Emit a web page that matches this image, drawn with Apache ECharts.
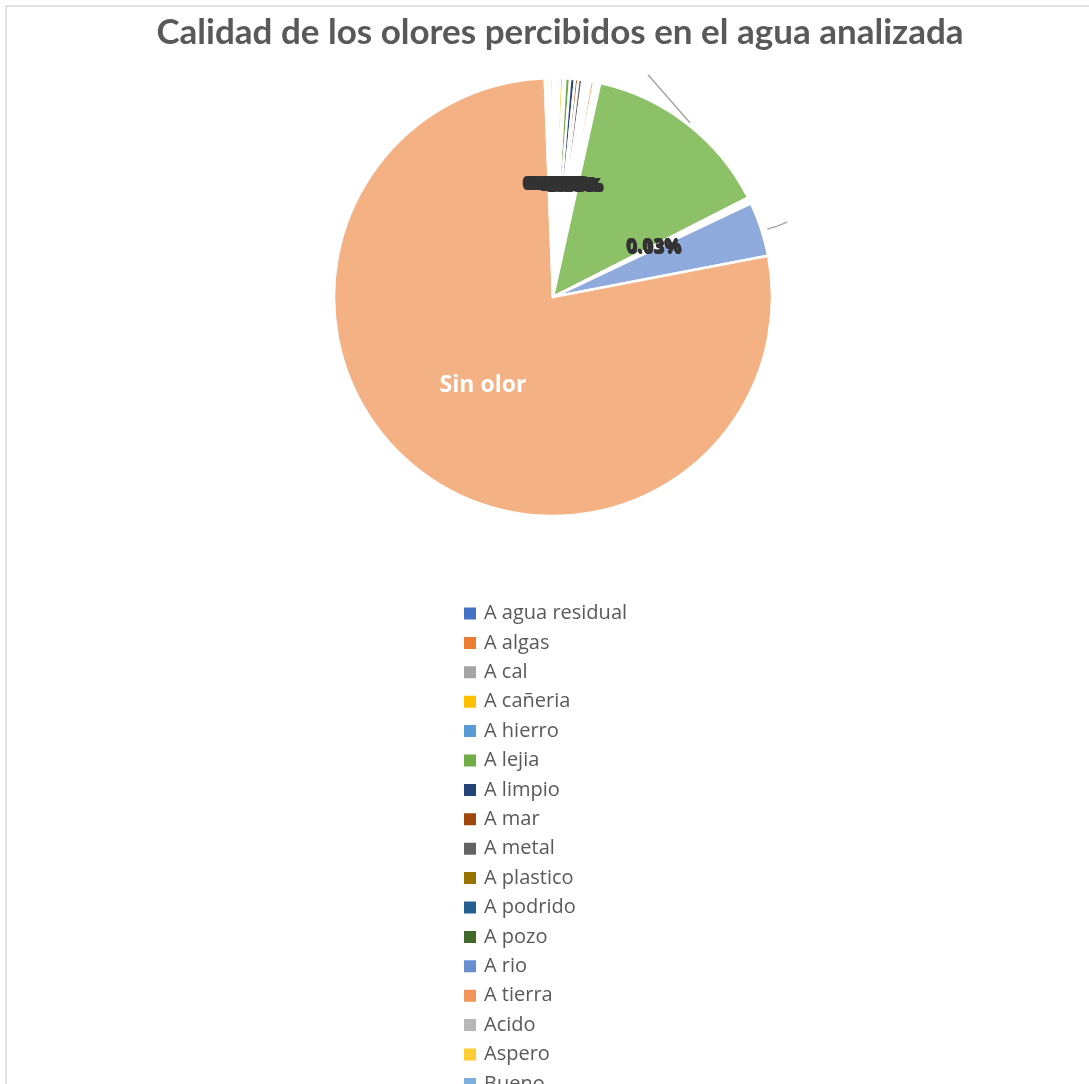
<!DOCTYPE html>
<html>
<head>
<meta charset="utf-8">
<script src="https://cdn.jsdelivr.net/npm/echarts@6/dist/echarts.min.js"></script>
<style>
  html, body { margin: 0; padding: 0; background: #fff; }
  #chart { width: 1089px; height: 1084px; }
</style>
</head>
<body>
<div id="chart"></div>
<script>
// ---- data ----
const titleText = 'Calidad de los olores percibidos en el agua analizada';
const categories = [
  'A agua residual', 'A algas', 'A cal', 'A cañeria', 'A hierro', 'A lejia',
  'A limpio', 'A mar', 'A metal', 'A plastico', 'A podrido', 'A pozo',
  'A rio', 'A tierra', 'Acido', 'Aspero', 'Bueno', 'Cloro',
  'Dulce', 'Fuerte', 'Humedad', 'Malo', 'Metálico', 'Neutro',
  'Raro', 'Sin olor', 'Suave', 'Turbio', 'Vinagre'
];
const values = [
  0.15, 0.15, 0.20, 0.25, 0.15, 0.35,
  0.35, 0.25, 0.30, 0.15, 0.15, 0.15,
  0.15, 0.25, 0.15, 0.15, 0.15, 14.0,
  0.08, 0.08, 0.08, 0.08, 0.08, 0.08,
  4.0, 77.2, 0.2, 0.2, 0.2
];
const labelTexts = [
  '0.00%', '0.01%', '0.00%', '0.01%', '0.00%', '0.02%',
  '0.02%', '0.01%', '0.01%', '0.00%', '0.00%', '0.00%',
  '0.00%', '0.01%', '0.00%', '0.00%', '0.00%', ' ',
  '0.03%', '0.03%', '0.13%', '0.03%', '0.03%', '0.03%',
  ' ', 'Sin olor', '0.01%', '0.00%', '0.00%'
];
const colors = [
  '#4472C4', '#ED7D31', '#A5A5A5', '#FFC000', '#5B9BD5', '#70AD47',
  '#264478', '#9E480E', '#636363', '#997300', '#255E91', '#43682B',
  '#698ED0', '#F1975A', '#B7B7B7', '#FFCD33', '#7CAFDD', '#8CC168',
  '#335593', '#B25E25', '#7C7C7C', '#BF9000', '#4474A0', '#548235',
  '#8FAADC', '#F4B183', '#C9C9C9', '#FFD966', '#9DC3E6'
];
const outsideLabelIdx = [17, 24];
const whiteLabelIdx = [25];

// ---- chart ----
const chart = echarts.init(document.getElementById('chart'), null, { renderer: 'canvas' });

const pieData = categories.map((name, i) => {
  const item = { name: name, value: values[i], itemStyle: { color: colors[i] } };
  if (outsideLabelIdx.includes(i)) {
    item.label = { position: 'outside', formatter: ' ' };
    item.labelLine = { show: true, length: 10, length2: 0, lineStyle: { color: '#a6a6a6', width: 1.5 } };
  }
  if (whiteLabelIdx.includes(i)) {
    item.label = { color: '#ffffff', fontSize: 23, fontWeight: 'bold', fontFamily: 'Open Sans' };
  }
  return item;
});

chart.setOption({
  animation: false,
  backgroundColor: '#ffffff',
  graphic: [{
    type: 'rect',
    shape: { x: 6, y: 6, width: 1200, height: 1200 },
    style: { fill: 'none', stroke: '#d9d9d9', lineWidth: 1.5 },
    silent: true, z: -10
  }],
  title: {
    text: titleText,
    left: 555,
    top: 10,
    textAlign: 'center',
    textStyle: { fontFamily: 'Lato', fontSize: 35, fontWeight: 'bold', color: '#595959' }
  },
  legend: {
    orient: 'vertical',
    left: 462,
    top: 603,
    height: 3000,
    padding: 0,
    icon: 'rect',
    itemWidth: 14,
    itemHeight: 14,
    itemGap: 8.4,
    selectedMode: false,
    data: categories,
    textStyle: { fontFamily: 'Open Sans', fontSize: 20, lineHeight: 21, color: '#595959', padding: [0, 0, 0, 2] }
  },
  series: [{
    type: 'pie',
    center: [553, 297],
    radius: 219,
    startAngle: 90,
    clockwise: true,
    avoidLabelOverlap: false,
    itemStyle: { borderColor: '#ffffff', borderWidth: 2.5 },
    label: {
      show: true,
      position: 'inside',
      formatter: p => labelTexts[p.dataIndex],
      fontFamily: 'Open Sans',
      fontSize: 19,
      fontWeight: 'bold',
      color: '#333333'
    },
    labelLine: { show: false },
    labelLayout: function (params) {
      const pts = params.labelLinePoints;
      if (!pts) return {};
      const p0 = pts[0];
      if (params.dataIndex === 17) {
        return { labelLinePoints: [[p0[0] + 3, p0[1] - 1], [p0[0] - 18, p0[1] - 25], [p0[0] - 39, p0[1] - 49]] };
      }
      if (params.dataIndex === 24) {
        return { labelLinePoints: [[p0[0] + 6, p0[1]], [p0[0] + 16, p0[1] - 3], [p0[0] + 26, p0[1] - 7]] };
      }
      return {};
    },
    data: pieData
  }]
});
</script>
</body>
</html>
